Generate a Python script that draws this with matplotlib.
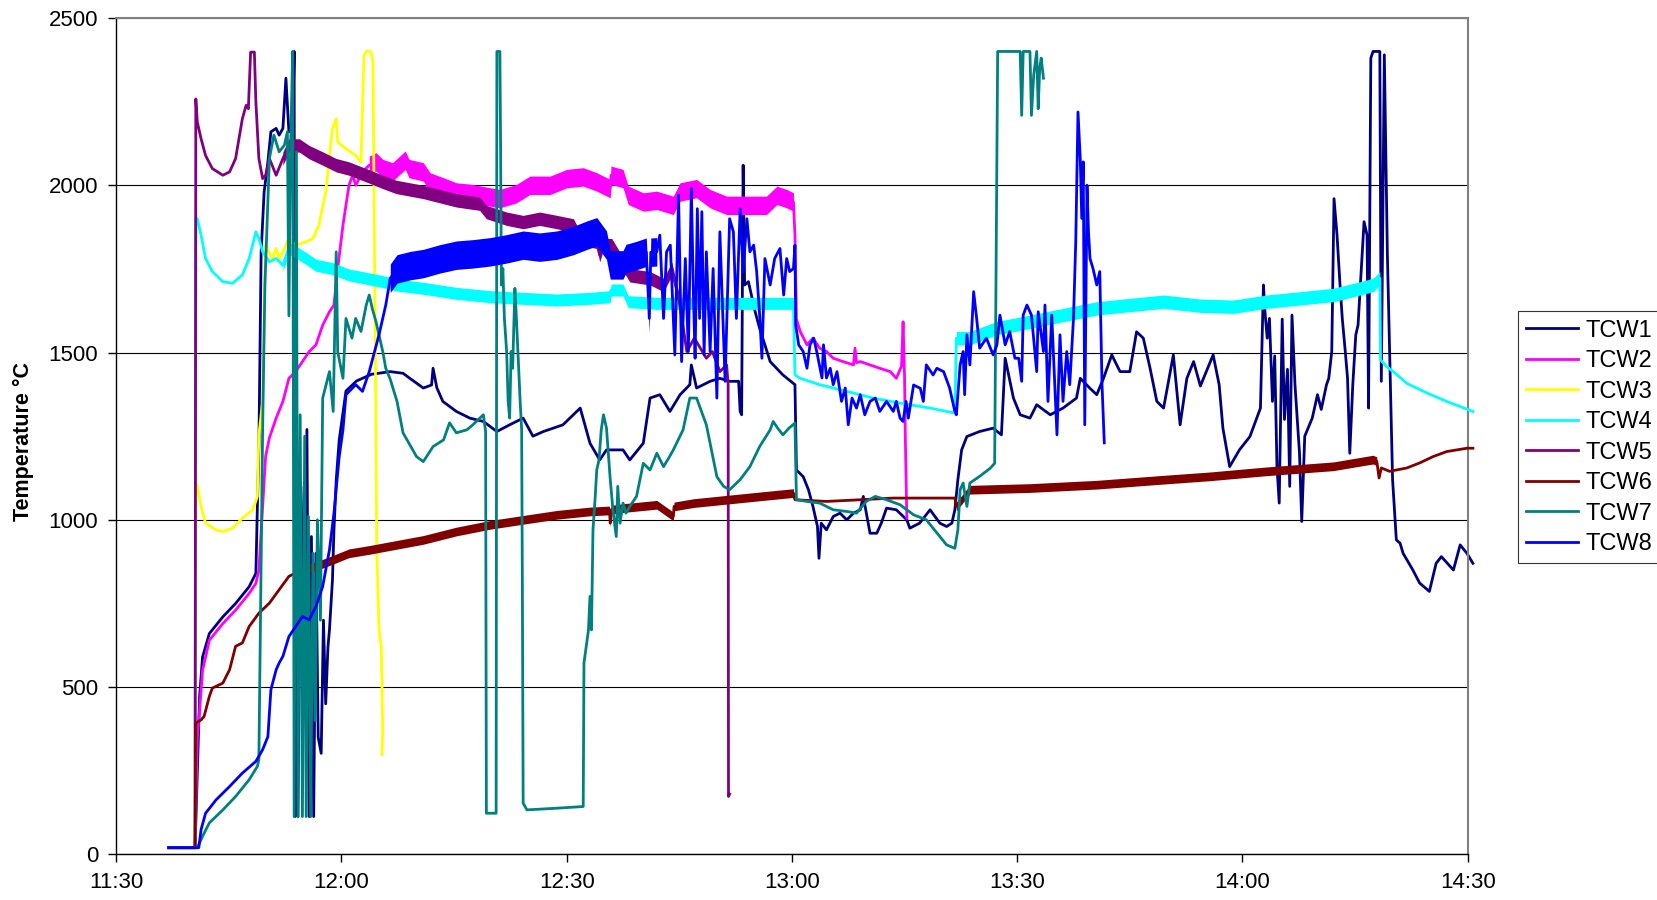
import numpy as np
import matplotlib
matplotlib.use("Agg")
import matplotlib.pyplot as plt
from matplotlib.lines import Line2D

plt.rcParams['font.family'] = ['Liberation Sans', 'DejaVu Sans']

# time axis: minutes after 11:30
tick_minutes = [0, 30, 60, 90, 120, 150, 180]
tick_labels = ["11:30", "12:00", "12:30", "13:00", "13:30", "14:00", "14:30"]

names = ["TCW1", "TCW2", "TCW3", "TCW4", "TCW5", "TCW6", "TCW7", "TCW8"]
colors = ["#000080", "#FF00FF", "#FFFF00", "#00FFFF",
          "#800080", "#800000", "#008080", "#0000FF"]

# (minute, temperature) readings per thermocouple
tcw1 = [(7.0, 20), (10.5, 20), (11.1, 470), (11.5, 590), (12.4, 660), (14.2, 710), (15.9, 750),
        (17.7, 800), (18.6, 840), (18.8, 1040), (19.0, 1220), (19.3, 1800), (19.7, 1980),
        (20.2, 2070), (20.6, 2160), (21.3, 2170), (21.7, 2150), (22.2, 2170), (22.6, 2320),
        (23.0, 2160), (23.5, 2170), (23.7, 2400), (23.8, 113), (24.0, 1300), (24.2, 113),
        (24.6, 1100), (25.0, 700), (25.4, 1270), (25.7, 113), (26.0, 950), (26.3, 113),
        (26.6, 900), (26.9, 350), (27.3, 302), (27.6, 700), (27.9, 450), (28.2, 620),
        (28.4, 671), (28.8, 820), (29.0, 970), (29.3, 1119), (29.7, 1239), (30.6, 1385),
        (32.0, 1415), (34.0, 1435), (36.5, 1443), (38.2, 1438), (39.1, 1423), (40.9, 1394),
        (42.0, 1403), (42.2, 1453), (42.7, 1395), (43.5, 1354), (45.3, 1324), (47.1, 1304),
        (48.9, 1294), (50.7, 1264), (52.4, 1284), (54.2, 1304), (55.5, 1250), (56.9, 1264),
        (59.5, 1284), (61.8, 1334), (63.1, 1229), (64.4, 1179), (65.3, 1209), (67.5, 1209),
        (68.4, 1179), (70.2, 1229), (71.1, 1364), (72.4, 1374), (73.75, 1324), (75.1, 1374),
        (76.4, 1404), (76.6, 1463), (77.3, 1394), (79.1, 1414), (80.4, 1423), (81.7, 1414),
        (82.9, 1414), (83.1, 1324), (83.3, 1314), (83.5, 2060), (83.7, 1702), (84.2, 1712),
        (85.1, 1622), (85.7, 1572), (87.1, 1473), (88.8, 1433), (90.4, 1404), (90.6, 1149),
        (91.5, 1129), (92.2, 1090), (92.8, 1040), (93.4, 980), (93.6, 885), (93.9, 990),
        (94.6, 970), (95.5, 1010), (96.4, 1020), (97.3, 1000), (98.2, 1020), (99.1, 1030),
        (99.5, 1070), (100.4, 960), (101.3, 960), (101.9, 990), (102.6, 1035), (103.9, 1030),
        (105.3, 1000), (105.7, 975), (107.0, 990), (108.4, 1030), (109.7, 990), (110.6, 980),
        (111.3, 990), (111.7, 1030), (112.1, 1120), (112.6, 1209), (113.3, 1249), (115.0, 1264),
        (116.8, 1274), (117.9, 1254), (118.4, 1483), (119.5, 1364), (120.4, 1314),
        (121.7, 1304), (122.6, 1344), (124.4, 1314), (126.1, 1334), (127.9, 1364),
        (128.4, 1423), (129.7, 1393), (130.6, 1374), (131.5, 1423), (132.6, 1493),
        (133.7, 1443), (135.0, 1443), (135.9, 1562), (136.8, 1543), (137.7, 1453),
        (138.6, 1354), (139.5, 1334), (140.8, 1493), (141.7, 1284), (142.6, 1423),
        (143.5, 1473), (144.4, 1400), (146.1, 1493), (146.9, 1404), (147.4, 1274),
        (148.3, 1159), (149.6, 1209), (151.0, 1249), (152.4, 1334), (152.8, 1702),
        (153.0, 1622), (153.3, 1543), (153.6, 1602), (154.0, 1354), (154.3, 1490),
        (154.6, 1160), (154.9, 1050), (155.3, 1600), (155.6, 1300), (156.0, 1450),
        (156.3, 1100), (156.6, 1612), (157.0, 1404), (157.6, 1200), (157.9, 995),
        (158.3, 1250), (159.3, 1304), (160.0, 1374), (160.5, 1330), (161.2, 1404),
        (161.5, 1423), (161.9, 1503), (162.2, 1960), (162.6, 1851), (163.0, 1702),
        (163.3, 1602), (163.7, 1503), (164.0, 1423), (164.3, 1199), (164.7, 1404),
        (165.1, 1553), (165.4, 1582), (166.2, 1891), (166.6, 1851), (166.8, 1334),
        (167.1, 2380), (167.4, 2400), (168.3, 2400), (168.5, 1414), (168.9, 2390),
        (169.3, 1801), (170.0, 1120), (170.5, 940), (171.0, 930), (171.4, 900), (172.7, 850),
        (173.6, 811), (174.9, 786), (175.8, 870), (176.5, 890), (178.1, 850), (179.0, 925),
        (179.9, 900), (180.7, 870)]

tcw2 = [(7.0, 20), (10.5, 20), (10.8, 350), (11.1, 430), (11.5, 550), (12.4, 640), (14.2, 690),
        (15.9, 730), (17.7, 780), (18.6, 810), (19.0, 850), (19.9, 1190), (20.4, 1245),
        (21.3, 1304), (22.2, 1354), (23.0, 1423), (23.9, 1443), (24.8, 1473), (25.7, 1503),
        (26.6, 1523), (27.5, 1582), (28.4, 1622), (29.0, 1642), (29.5, 1751), (30.2, 1881),
        (31.0, 2000), (31.5, 2030), (31.9, 2000), (32.8, 2040), (33.7, 2060), (34.6, 2070),
        (35.5, 2050), (36.8, 2040), (38.5, 2075), (39.0, 2050), (40.9, 2040), (41.8, 2010),
        (43.6, 1995), (45.3, 1980), (47.5, 1975), (49.8, 1965), (51.1, 1960), (53.3, 1975),
        (55.1, 2000), (57.8, 2000), (60.0, 2020), (62.2, 2025), (64.0, 2010), (65.8, 1990),
        (65.9, 2030), (67.5, 2020), (68.2, 1970), (70.2, 1950), (72.0, 1955), (74.2, 1940),
        (75.1, 1980), (77.3, 1990), (79.1, 1960), (81.3, 1940), (83.5, 1940), (86.6, 1940),
        (88.0, 1970), (89.3, 1960), (90.2, 1950), (90.4, 1850), (90.6, 1600), (91.1, 1563),
        (92.0, 1523), (92.8, 1543), (93.7, 1513), (94.6, 1503), (95.5, 1483), (96.8, 1473),
        (98.2, 1463), (98.4, 1513), (98.6, 1470), (99.1, 1473), (100.4, 1463), (101.7, 1453),
        (103.1, 1443), (103.9, 1423), (104.6, 1460), (104.8, 1592), (105.0, 1423),
        (105.1, 1247), (105.3, 1005)]

tcw3 = [(7.0, 20), (10.5, 20), (10.6, 1105), (10.8, 1105), (11.3, 1040), (11.9, 990),
        (13.3, 970), (14.2, 965), (15.5, 975), (16.8, 1005), (18.2, 1030), (18.8, 1070),
        (19.0, 1254), (19.5, 1354), (19.9, 1821), (20.3, 1801), (20.8, 1781), (21.3, 1811),
        (21.7, 1781), (22.2, 1801), (23.0, 1841), (23.9, 1821), (25.3, 1831), (26.2, 1841),
        (27.0, 1881), (27.9, 1980), (28.8, 2169), (29.3, 2199), (29.5, 2129), (30.6, 2109),
        (31.9, 2089), (32.6, 2070), (33.0, 2388), (33.3, 2400), (33.9, 2400), (34.2, 2370),
        (34.4, 1800), (34.6, 1250), (34.7, 900), (34.9, 751), (35.0, 671), (35.3, 621),
        (35.5, 372), (35.4, 298)]

tcw4 = [(7.0, 20), (10.5, 20), (10.6, 1900), (10.8, 1900), (11.3, 1851), (11.9, 1781),
        (12.8, 1742), (14.2, 1712), (15.5, 1707), (16.8, 1732), (17.7, 1781), (18.6, 1861),
        (19.0, 1841), (19.5, 1801), (20.4, 1771), (21.3, 1781), (22.2, 1761), (23.0, 1811),
        (23.9, 1801), (25.3, 1781), (26.6, 1761), (28.8, 1751), (31.0, 1732), (33.3, 1722),
        (35.5, 1712), (37.3, 1702), (40.9, 1692), (45.3, 1677), (49.8, 1667), (54.2, 1662),
        (58.7, 1657), (63.1, 1662), (65.8, 1667), (65.9, 1687), (67.5, 1687), (68.2, 1652),
        (72.0, 1647), (80.0, 1647), (90.2, 1647), (90.4, 1433), (91.1, 1423), (93.7, 1404),
        (97.3, 1384), (100.8, 1364), (104.4, 1349), (108.4, 1334), (111.7, 1319),
        (111.9, 1543), (113.7, 1543), (117.3, 1573), (121.7, 1592), (126.1, 1612),
        (130.6, 1632), (135.0, 1642), (139.5, 1652), (144.4, 1640), (148.8, 1637),
        (153.2, 1652), (157.7, 1662), (162.1, 1672), (165.7, 1692), (167.4, 1702),
        (168.3, 1722), (168.4, 1478), (169.2, 1458), (170.1, 1443), (171.9, 1408),
        (174.6, 1379), (177.2, 1354), (180.7, 1324)]

tcw5 = [(7.0, 20), (10.5, 20), (10.6, 2258), (10.8, 2189), (11.3, 2139), (11.9, 2089),
        (12.8, 2050), (14.2, 2030), (15.1, 2040), (15.9, 2080), (16.8, 2199), (17.3, 2239),
        (17.6, 2229), (17.9, 2398), (18.4, 2398), (18.6, 2249), (19.0, 2080), (19.5, 2020),
        (19.9, 2030), (20.4, 2080), (21.3, 2030), (22.2, 2080), (23.0, 2119), (24.4, 2119),
        (25.7, 2099), (27.5, 2080), (29.3, 2060), (31.0, 2050), (33.3, 2030), (35.5, 2010),
        (37.3, 1995), (40.9, 1980), (45.3, 1955), (48.4, 1945), (49.3, 1920), (52.0, 1900),
        (54.2, 1890), (56.4, 1900), (58.7, 1890), (60.9, 1880), (61.8, 1841), (64.0, 1831),
        (64.4, 1791), (64.8, 1821), (66.0, 1821), (68.4, 1731), (71.1, 1722), (72.9, 1702),
        (74.0, 1750), (75.0, 1652), (76.0, 1503), (77.0, 1543), (78.6, 1483), (79.4, 1503),
        (80.4, 1443), (81.3, 1463), (81.5, 1404), (81.55, 173), (81.7, 180)]

tcw6 = [(7.0, 20), (10.5, 20), (10.6, 392), (11.3, 402), (11.7, 412), (12.4, 472), (12.8, 497),
        (14.2, 512), (15.1, 552), (15.9, 622), (16.8, 632), (17.7, 681), (19.0, 721),
        (20.4, 751), (21.7, 791), (23.0, 831), (24.8, 851), (26.6, 861), (28.8, 880),
        (31.0, 900), (33.7, 910), (37.3, 925), (40.9, 940), (45.3, 965), (49.8, 985),
        (54.2, 1000), (58.7, 1015), (63.1, 1025), (65.7, 1028), (65.8, 990), (65.9, 1030),
        (67.5, 1035), (72.0, 1045), (74.2, 1010), (74.3, 1040), (76.9, 1050), (81.3, 1060),
        (85.7, 1070), (90.2, 1080), (90.4, 1060), (94.6, 1055), (99.1, 1060), (103.5, 1065),
        (111.7, 1065), (111.9, 1040), (113.7, 1090), (121.7, 1095), (130.6, 1105),
        (139.5, 1120), (145.7, 1130), (153.2, 1145), (162.1, 1160), (167.4, 1180),
        (167.9, 1175), (168.2, 1125), (168.5, 1155), (169.6, 1145), (171.9, 1155),
        (173.6, 1170), (175.4, 1189), (177.2, 1204), (179.9, 1214), (180.7, 1214)]

tcw7 = [(7.0, 20), (10.8, 20), (11.5, 54), (12.4, 94), (14.2, 133), (15.9, 173), (17.7, 223),
        (18.8, 263), (19.0, 283), (19.5, 1269), (19.8, 1700), (20.4, 2080), (21.0, 2150),
        (21.7, 2100), (22.4, 2120), (22.8, 2160), (23.0, 1610), (23.2, 2080), (23.5, 2400),
        (23.7, 113), (24.0, 2100), (24.2, 113), (24.5, 1314), (24.8, 113), (25.1, 1250),
        (25.3, 113), (25.6, 1010), (25.9, 113), (26.2, 900), (26.5, 400), (26.8, 1000),
        (27.2, 700), (27.5, 1364), (28.4, 1443), (28.9, 1324), (29.3, 1801), (29.5, 1503),
        (30.2, 1423), (30.6, 1602), (31.0, 1572), (31.4, 1543), (31.9, 1602), (32.6, 1563),
        (33.3, 1642), (33.7, 1672), (34.1, 1632), (34.6, 1592), (35.1, 1543), (35.5, 1503),
        (35.9, 1453), (36.5, 1420), (37.4, 1354), (38.2, 1260), (40.0, 1189), (40.9, 1174),
        (42.2, 1219), (43.6, 1239), (44.4, 1290), (45.3, 1260), (46.7, 1269), (47.5, 1284),
        (48.9, 1314), (49.2, 1264), (49.3, 123), (50.6, 123), (50.7, 2400), (51.1, 2400),
        (51.2, 2100), (51.3, 1702), (51.5, 1751), (51.7, 1602), (52.0, 1503), (52.2, 1354),
        (52.4, 1304), (52.6, 1503), (52.8, 1453), (53.1, 1692), (53.3, 1602), (53.5, 1503),
        (53.8, 1354), (54.0, 1269), (54.1, 771), (54.2, 153), (54.7, 133), (58.7, 138),
        (62.2, 143), (62.3, 572), (62.6, 622), (62.9, 671), (63.1, 771), (63.3, 671),
        (63.5, 970), (63.8, 1070), (64.0, 1149), (64.3, 1179), (64.6, 1269), (64.9, 1314),
        (65.3, 1274), (65.8, 1120), (66.2, 1020), (66.6, 950), (66.8, 1100), (67.1, 990),
        (67.5, 1050), (67.9, 1020), (68.4, 1040), (69.3, 1070), (70.2, 1169), (71.1, 1149),
        (72.0, 1199), (72.9, 1159), (73.7, 1189), (74.2, 1209), (75.5, 1269), (76.4, 1364),
        (77.3, 1364), (78.6, 1284), (80.0, 1129), (80.9, 1100), (81.7, 1090), (83.1, 1120),
        (84.4, 1159), (85.7, 1219), (87.1, 1269), (87.5, 1294), (88.1, 1274), (88.8, 1254),
        (89.6, 1274), (90.4, 1289), (90.6, 1060), (92.0, 1055), (93.7, 1050), (95.5, 1030),
        (97.3, 1025), (98.6, 1020), (99.9, 1055), (101.1, 1070), (102.6, 1060), (104.4, 1045),
        (106.2, 1015), (107.9, 1000), (109.7, 950), (110.6, 925), (111.7, 915), (112.1, 970),
        (112.4, 1090), (112.8, 1110), (113.3, 1040), (113.7, 1110), (115.0, 1130),
        (116.4, 1154), (117.0, 1169), (117.3, 2099), (117.4, 2400), (120.4, 2400),
        (120.6, 2209), (120.8, 2400), (121.7, 2400), (121.9, 2209), (122.2, 2329),
        (122.6, 2400), (122.8, 2229), (123.0, 2350), (123.2, 2380), (123.5, 2320)]

tcw8 = [(7.0, 20), (11.0, 20), (11.3, 74), (11.9, 123), (13.3, 163), (15.1, 203), (16.8, 243),
        (18.6, 278), (19.5, 313), (20.2, 352), (20.6, 492), (21.3, 552), (21.7, 572),
        (22.2, 592), (23.0, 651), (23.9, 681), (24.8, 711), (25.7, 701), (26.6, 741),
        (27.5, 801), (28.4, 910), (29.0, 1020), (29.7, 1189), (30.2, 1269), (30.6, 1374),
        (31.9, 1404), (32.8, 1384), (33.7, 1443), (35.0, 1553), (35.9, 1642), (36.5, 1722),
        (37.4, 1750), (39.2, 1760), (40.9, 1766), (43.1, 1780), (45.3, 1791), (47.5, 1795),
        (49.8, 1801), (52.0, 1810), (54.2, 1821), (56.4, 1815), (58.7, 1821), (60.9, 1835),
        (62.7, 1851), (64.0, 1861), (65.3, 1821), (65.8, 1762), (67.5, 1762), (67.9, 1781),
        (69.3, 1790), (70.6, 1800), (71.0, 1602), (71.2, 1800), (72.0, 1801), (72.4, 1851),
        (72.9, 1602), (73.3, 1801), (73.8, 1821), (74.4, 1493), (74.9, 1970), (75.3, 1473),
        (75.8, 1781), (76.2, 1503), (76.6, 1990), (76.9, 1652), (77.1, 1483), (77.4, 1930),
        (77.7, 1602), (78.0, 1921), (78.3, 1493), (78.6, 1801), (79.1, 1503), (79.5, 1751),
        (80.0, 1364), (80.4, 1861), (80.8, 1602), (81.1, 1414), (81.7, 1900), (82.2, 1861),
        (82.6, 1602), (83.1, 1930), (83.5, 1742), (84.0, 1900), (84.4, 1801), (84.9, 1821),
        (85.3, 1742), (85.7, 1612), (86.0, 1483), (86.4, 1781), (87.1, 1702), (87.7, 1781),
        (88.4, 1811), (88.9, 1672), (89.3, 1781), (89.7, 1742), (90.2, 1751), (90.4, 1821),
        (90.5, 1582), (90.9, 1523), (91.5, 1503), (92.0, 1453), (92.4, 1523), (92.9, 1543),
        (93.3, 1503), (94.0, 1424), (94.2, 1523), (94.6, 1424), (95.1, 1453), (95.5, 1404),
        (96.0, 1443), (96.6, 1354), (97.1, 1394), (97.5, 1284), (98.0, 1364), (98.6, 1334),
        (99.1, 1374), (99.7, 1314), (100.4, 1354), (101.1, 1364), (101.7, 1324),
        (102.6, 1354), (103.5, 1324), (103.9, 1354), (104.4, 1304), (104.8, 1294),
        (105.2, 1354), (105.5, 1304), (106.2, 1403), (107.1, 1393), (107.5, 1354),
        (107.9, 1463), (108.8, 1433), (109.3, 1453), (110.2, 1443), (111.0, 1394),
        (111.7, 1324), (111.9, 1314), (112.4, 1463), (112.8, 1503), (113.0, 1374),
        (113.3, 1553), (113.7, 1463), (114.2, 1682), (114.6, 1602), (115.0, 1513),
        (115.9, 1543), (116.8, 1493), (117.3, 1523), (117.7, 1612), (118.4, 1523),
        (119.0, 1563), (119.7, 1483), (120.2, 1483), (120.6, 1414), (120.8, 1612),
        (121.3, 1642), (121.9, 1612), (122.6, 1443), (122.8, 1622), (123.5, 1503),
        (123.7, 1642), (124.1, 1354), (124.6, 1612), (125.3, 1254), (125.7, 1553),
        (126.1, 1354), (126.6, 1503), (127.0, 1404), (127.5, 1602), (127.8, 1831),
        (128.1, 2219), (128.4, 2080), (128.6, 1901), (128.8, 2070), (129.0, 1284),
        (129.3, 2000), (129.5, 1861), (129.7, 1781), (130.1, 1751), (130.6, 1702),
        (131.0, 1742), (131.3, 1404), (131.6, 1230)]

series = [tcw1, tcw2, tcw3, tcw4, tcw5, tcw6, tcw7, tcw8]

# stretches where the logger signal oscillates fast enough to read as a band:
# (series index, from minute, to minute, band height in degrees)
bands = [(1, 33.0, 90.2, 55), (3, 22.0, 90.2, 36), (3, 111.9, 168.3, 40),
         (4, 22.0, 75.0, 40), (5, 24.0, 90.2, 26), (5, 111.9, 168.0, 26),
         (7, 36.5, 72.0, 85)]

fig = plt.figure(figsize=(16.58, 9), dpi=100)
ax = fig.add_axes([0.0701, 0.0507, 0.8151, 0.9293])

for i, (data, col) in enumerate(zip(series, colors)):
    arr = np.array(data, dtype=float)
    t, v = arr[:, 0], arr[:, 1]
    for idx, a, b, h in bands:
        if idx != i:
            continue
        m = (t >= a) & (t <= b)
        ax.fill_between(t[m], v[m] - h / 2, v[m] + h / 2, color=col, lw=0, zorder=2 + i)
    ax.plot(t, v, color=col, lw=2.0, zorder=2 + i, clip_on=False)

ax.set_xlim(0, 180)
ax.set_ylim(0, 2500)
ax.set_xticks(tick_minutes)
ax.set_xticklabels(tick_labels)
ax.set_yticks(range(0, 2501, 500))
ax.tick_params(direction='out', length=6, width=1, labelsize=16, pad=7, colors='black')
ax.yaxis.grid(True, color='black', lw=0.8)
ax.set_axisbelow(True)

for side in ('top', 'right'):
    ax.spines[side].set_color('#808080')
    ax.spines[side].set_linewidth(1.5)
for side in ('left', 'bottom'):
    ax.spines[side].set_color('black')
    ax.spines[side].set_linewidth(1.0)

fig.text(0.0139, 0.509, "Temperature °C", rotation=90, fontsize=15.5,
         fontweight='bold', ha='center', va='center')

handles = [Line2D([], [], color=c, lw=2.0) for c in colors]
leg = fig.legend(handles, names, loc='center left', bbox_to_anchor=(0.9156, 0.514),
                 fontsize=17, frameon=True, fancybox=False, edgecolor='black',
                 handlelength=2.2, handletextpad=0.3, labelspacing=0.36,
                 borderpad=0.35, borderaxespad=0)
leg.get_frame().set_linewidth(0.8)

fig.savefig("out.png", dpi=100)
